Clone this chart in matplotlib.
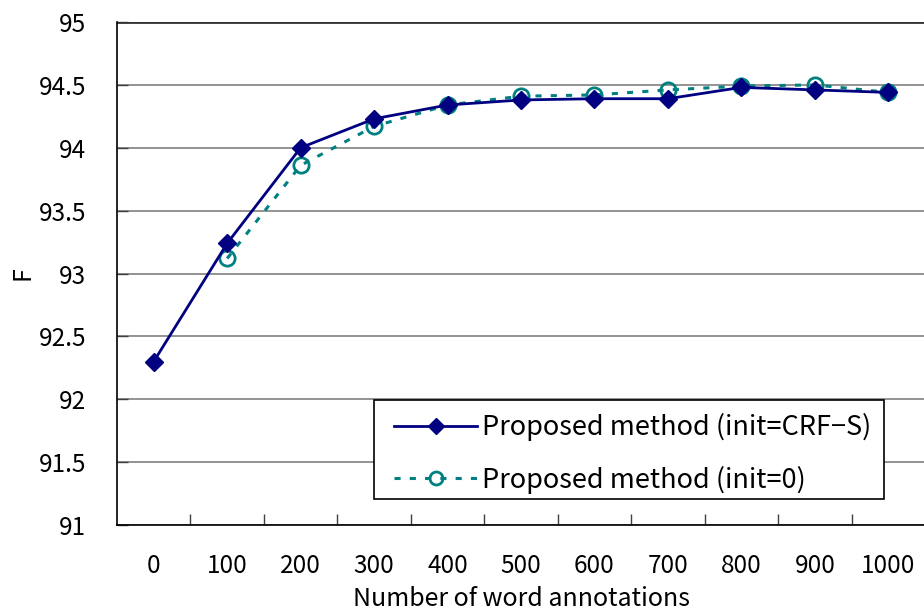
import matplotlib
matplotlib.use("Agg")
from matplotlib import pyplot as plt
from matplotlib.patches import Rectangle
from matplotlib.ticker import FixedLocator, NullFormatter
import numpy as np

plt.rcParams['font.family'] = ['Noto Sans CJK JP', 'DejaVu Sans']

annotations = ["0", "100", "200", "300", "400", "500", "600", "700", "800", "900", "1000"]
f_crf_s = [92.30, 93.24, 94.00, 94.23, 94.34, 94.38, 94.39, 94.39, 94.48, 94.46, 94.44]
init0_labels = annotations[1:]
f_init0 = [93.12, 93.86, 94.17, 94.34, 94.41, 94.42, 94.46, 94.49, 94.50, 94.44]

yticks = [91, 91.5, 92, 92.5, 93, 93.5, 94, 94.5, 95]
ytick_labels = ["91", "91.5", "92", "92.5", "93", "93.5", "94", "94.5", "95"]

navy = "#000080"
teal = "#008080"
tick_fs = 17.5
fs = 19.5

fig = plt.figure(figsize=(9.24, 6.15), dpi=100)
ax = fig.add_axes([117 / 924, (615 - 525) / 615, 808 / 924, 503 / 615])

x_all = np.arange(len(annotations))
x_init0 = np.array([annotations.index(a) for a in init0_labels])

ax.plot(x_all, f_crf_s, color=navy, lw=2, marker="D", ms=9,
        mfc=navy, mec=navy, label="Proposed method (init=CRF\u2212S)", zorder=4)
ax.plot(x_init0, f_init0, color=teal, lw=2.2, ls=(0, (2, 3)), marker="o", ms=11,
        mfc="none", mec=teal, mew=2, label="Proposed method (init=0)", zorder=3)

ax.set_xlim(-0.5, len(annotations) - 0.5)
ax.set_ylim(91, 95)

ax.set_yticks(yticks)
ax.set_yticklabels(ytick_labels)
ax.set_xticks(x_all)
ax.set_xticklabels(annotations)
ax.xaxis.set_minor_locator(FixedLocator(x_all[:-1] + 0.5))
ax.xaxis.set_minor_formatter(NullFormatter())

ax.tick_params(axis="x", which="major", length=0, pad=20, labelsize=tick_fs)
ax.tick_params(axis="x", which="minor", direction="in", length=8, width=1, color="#404040")
ax.tick_params(axis="y", direction="in", length=8, width=1, pad=22, labelsize=tick_fs, color="#404040")

ax.grid(axis="y", color="#808080", lw=1.2)
ax.set_axisbelow(True)
for s in ["top", "right"]:
    ax.spines[s].set_visible(False)
ax.spines["left"].set_color("black")
ax.spines["bottom"].set_color("black")
ax.spines["left"].set_linewidth(1.2)
ax.spines["bottom"].set_linewidth(1.2)
ax.axhline(95, color="#333333", lw=2, zorder=1)

ax.set_xlabel("Number of word annotations", fontsize=tick_fs + 0.5, labelpad=5)
ax.set_ylabel("F", fontsize=tick_fs + 0.5, va="center")
ax.yaxis.set_label_coords((22 - 117) / 808, 0.5)

# legend box (drawn separately so its padding matches the original)
box = Rectangle(((374 - 117) / 808, (525 - 499) / 503), 510 / 808, 99 / 503,
                transform=ax.transAxes, facecolor="white", edgecolor="black",
                lw=1.2, zorder=5)
ax.add_patch(box)
leg = ax.legend(loc="center", bbox_to_anchor=((633 - 117) / 808, (525 - 453.5) / 503),
                fontsize=fs, frameon=False, borderpad=0, handlelength=3.05,
                handletextpad=0.2, labelspacing=0.9, borderaxespad=0,
                markerscale=0.85)
leg.set_zorder(6)

fig.savefig("out.png", dpi=100)
